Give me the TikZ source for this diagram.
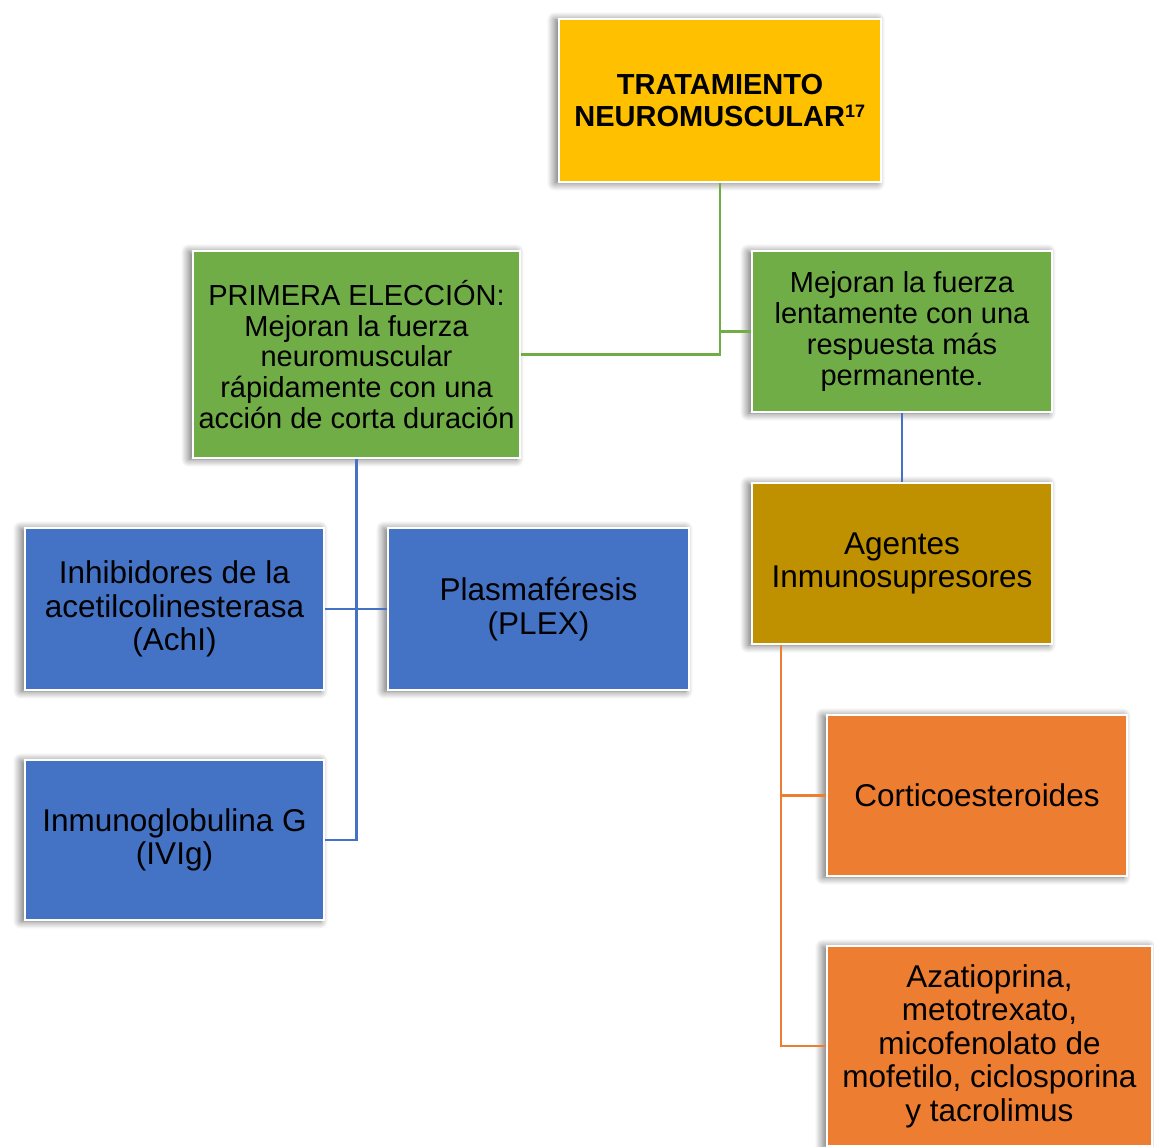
\documentclass[tikz,border=0pt]{standalone}
\usepackage{fontspec}
\setmainfont{Liberation Sans}
\usetikzlibrary{shadows.blur}
\definecolor{cyellow}{HTML}{FFC000}
\definecolor{cgreen}{HTML}{70AD47}
\definecolor{cblue}{HTML}{4472C4}
\definecolor{cgold}{HTML}{BF9000}
\definecolor{corange}{HTML}{ED7D31}
\tikzset{
  x=1pt, y=-1pt,
  box/.style={draw=white, line width=2pt, inner sep=0pt, anchor=north west,
    align=center, text=black,
    blur shadow={shadow xshift=-4pt, shadow yshift=-1pt, shadow blur radius=8pt,
      shadow opacity=60, shadow blur steps=12}},
  greentxt/.style={font=\fontsize{29}{30.8}\selectfont},
  bigtxt/.style={font=\fontsize{31.5}{33.5}\selectfont},
  link/.style={line width=2.6pt},
}
\begin{document}
\begin{tikzpicture}
\useasboundingbox (0,0) rectangle (1154,1147);

% root
\node[box, fill=cyellow, minimum width=322pt, minimum height=163pt,
  font=\bfseries\fontsize{29}{32}\selectfont] (root) at (558,18)
  {TRATAMIENTO\\NEUROMUSCULAR\textsuperscript{\bfseries\fontsize{18}{18}\selectfont 17}};

% first-line branch
\node[box, fill=cgreen, minimum width=327pt, minimum height=207pt, greentxt] (fast) at (192,250)
  {PRIMERA ELECCIÓN:\\Mejoran la fuerza\\neuromuscular\\rápidamente con una\\acción de corta duración};
\node[box, fill=cblue, minimum width=299pt, minimum height=162pt, bigtxt] (achi) at (24,527)
  {Inhibidores de la\\acetilcolinesterasa\\(AchI)};
\node[box, fill=cblue, minimum width=301pt, minimum height=162pt, bigtxt] (plex) at (387,527)
  {Plasmaféresis\\(PLEX)};
\node[box, fill=cblue, minimum width=299pt, minimum height=160pt, bigtxt] (ivig) at (24,759)
  {Inmunoglobulina G\\(IVIg)};

% long-term branch
\node[box, fill=cgreen, minimum width=300pt, minimum height=161pt, greentxt] (slow) at (751,250)
  {Mejoran la fuerza\\lentamente con una\\respuesta más\\permanente.};
\node[box, fill=cgold, minimum width=300pt, minimum height=161pt, bigtxt] (immuno) at (751,482)
  {Agentes\\Inmunosupresores};
\node[box, fill=corange, minimum width=300pt, minimum height=161pt, bigtxt] (cort) at (826,714)
  {Corticoesteroides};
\node[box, fill=corange, minimum width=325pt, minimum height=200pt, bigtxt] (aza) at (826,945)
  {Azatioprina,\\metotrexato,\\micofenolato de\\mofetilo, ciclosporina\\y tacrolimus};

% connectors
\draw[link, cgreen] (root.south) |- (fast.east);
\draw[link, cgreen] (root.south |- slow.west) -- (slow.west);
\draw[link, cblue] (fast.south) |- (ivig.east);
\draw[link, cblue] (achi.east) -- (plex.west);
\draw[link, cblue] (slow.south) -- (immuno.north);
\coordinate (trunk) at ([xshift=30pt]immuno.south west);
\draw[link, corange] (trunk) |- (aza.west);
\draw[link, corange] (trunk |- cort.west) -- (cort.west);
\end{tikzpicture}
\end{document}
